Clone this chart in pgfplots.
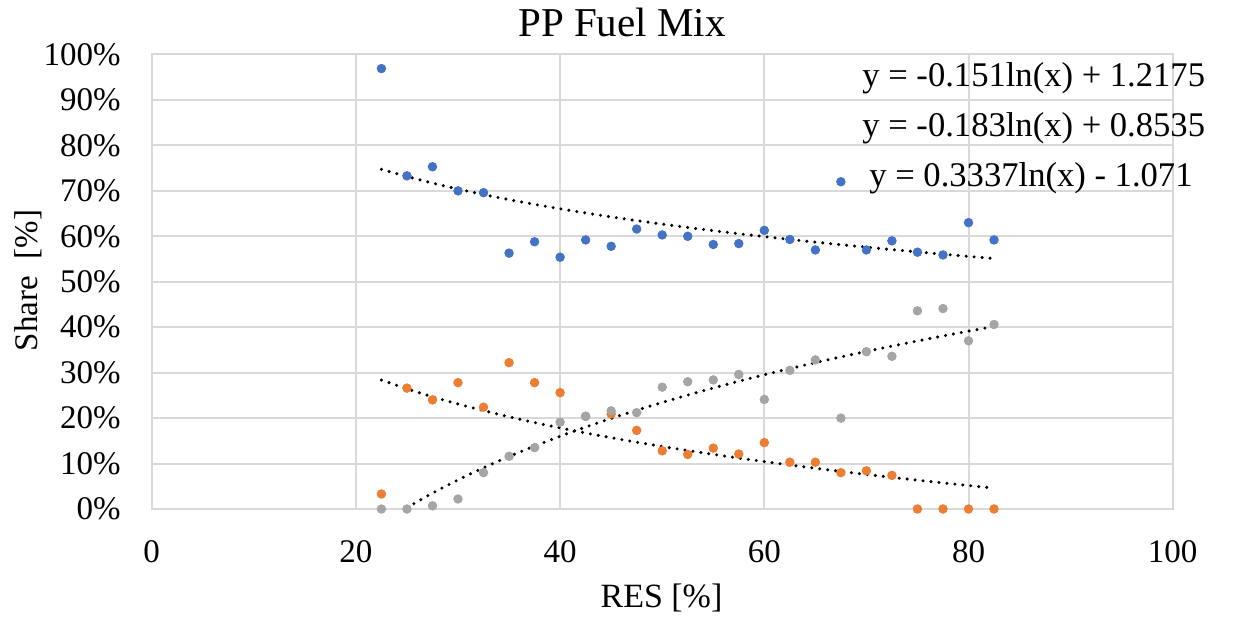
\documentclass[border=0pt]{standalone}
\usepackage{fontspec}
\setmainfont{Liberation Serif}
\usepackage{pgfplots}
\pgfplotsset{compat=1.18}
\usepackage{pgfplotstable}
\definecolor{cBlue}{HTML}{4472C4}
\definecolor{cOrange}{HTML}{ED7D31}
\definecolor{cGray}{HTML}{A5A5A5}
\definecolor{cGrid}{HTML}{D9D9D9}

\pgfplotstableread{
x     blue  orange gray
22.5  96.9  3.3    0.0
25    73.3  26.6   0.0
27.5  75.3  24.0   0.7
30    70.0  27.8   2.2
32.5  69.6  22.4   8.0
35    56.3  32.2   11.6
37.5  58.8  27.8   13.5
40    55.4  25.6   19.1
42.5  59.2  20.4   20.4
45    57.8  20.9   21.6
47.5  61.6  17.3   21.2
50    60.3  12.8   26.8
52.5  60.0  12.0   28.0
55    58.2  13.4   28.4
57.5  58.4  12.1   29.6
60    61.3  14.6   24.1
62.5  59.3  10.3   30.5
65    57.0  10.3   32.8
67.5  72.0  8.0    20.0
70    57.0  8.4    34.6
72.5  59.0  7.4    33.6
75    56.5  0.0    43.6
77.5  55.9  0.0    44.1
80    63.0  0.0    37.0
82.5  59.2  0.0    40.6
}\datatable

\pgfplotstableread{
x     tb     to
22.5  74.74  28.37
25    73.15  26.45
27.5  71.71  24.70
30    70.39  23.11
32.5  69.18  21.64
35    68.06  20.29
37.5  67.02  19.02
40    66.05  17.84
42.5  65.13  16.73
45    64.27  15.69
47.5  63.45  14.70
50    62.68  13.76
52.5  61.94  12.87
55    61.24  12.02
57.5  60.57  11.20
60    59.93  10.42
62.5  59.31  9.68
65    58.72  8.96
67.5  58.15  8.27
70    57.60  7.60
72.5  57.07  6.96
75    56.56  6.34
77.5  56.06  5.74
80    55.58  5.16
82.5  55.12  4.60
}\trendA

\pgfplotstableread{
x     tg
25    0.31
27.5  3.49
30    6.40
32.5  9.07
35    11.54
37.5  13.84
40    16.00
42.5  18.02
45    19.93
47.5  21.73
50    23.44
52.5  25.07
55    26.62
57.5  28.11
60    29.53
62.5  30.89
65    32.20
67.5  33.46
70    34.67
72.5  35.84
75    36.97
77.5  38.07
80    39.13
82.5  40.15
}\trendG

\begin{document}
\begin{tikzpicture}
\useasboundingbox (-75.85pt,-55.5pt) rectangle (541.15pt,254.5pt);
\begin{axis}[
  at={(0,0)}, anchor=south west,
  scale only axis,
  width=510.5pt, height=227.25pt,
  xmin=0, xmax=100, ymin=0, ymax=100,
  xtick={0,20,40,60,80,100},
  xticklabels={0,20,40,60,80,100},
  ytick={0,10,20,30,40,50,60,70,80,90,100},
  yticklabels={0\%,10\%,20\%,30\%,40\%,50\%,60\%,70\%,80\%,90\%,100\%},
  major tick length=0pt,
  grid=major,
  major grid style={draw=cGrid, line width=1pt},
  axis line style={draw=cGrid, line width=1pt},
  tick label style={font=\fontsize{16.5}{18}\selectfont},
  xticklabel style={anchor=base, inner sep=0pt, yshift=-26.85pt},
  yticklabel style={anchor=east, inner sep=0pt, xshift=-15.35pt},
  clip=false,
]
\addplot[only marks, mark=*, mark size=2.15pt, color=cBlue] table[x=x, y=blue] {\datatable};
\addplot[only marks, mark=*, mark size=2.15pt, color=cOrange] table[x=x, y=orange] {\datatable};
\addplot[only marks, mark=*, mark size=2.15pt, color=cGray] table[x=x, y=gray] {\datatable};
\addplot[black, line width=1.7pt, line cap=round, dash pattern=on 0pt off 4pt, smooth] table[x=x, y=tb] {\trendA};
\addplot[black, line width=1.7pt, line cap=round, dash pattern=on 0pt off 4pt, smooth] table[x=x, y=to] {\trendA};
\addplot[black, line width=1.7pt, line cap=round, dash pattern=on 0pt off 4pt, smooth] table[x=x, y=tg] {\trendG};
\end{axis}
\node[anchor=base, font=\fontsize{20.5}{22}\selectfont, inner sep=0pt] at (235.15pt,236.15pt) {PP Fuel Mix};
\node[anchor=base, font=\fontsize{17}{19}\selectfont, inner sep=0pt] at (254.9pt,-49pt) {RES [\%]};
\node[anchor=base, rotate=90, font=\fontsize{16.5}{18}\selectfont, inner sep=0pt] at (-56.85pt,114.25pt) {Share\ \ [\%]};
\node[anchor=base west, font=\fontsize{17.3}{19}\selectfont, inner sep=0pt] at (355.15pt,211pt) {y = -0.151ln(x) + 1.2175};
\node[anchor=base west, font=\fontsize{17.3}{19}\selectfont, inner sep=0pt] at (355.15pt,186pt) {y = -0.183ln(x) + 0.8535};
\node[anchor=base west, font=\fontsize{17.3}{19}\selectfont, inner sep=0pt] at (358.65pt,161.15pt) {y = 0.3337ln(x) - 1.071};
\end{tikzpicture}
\end{document}
